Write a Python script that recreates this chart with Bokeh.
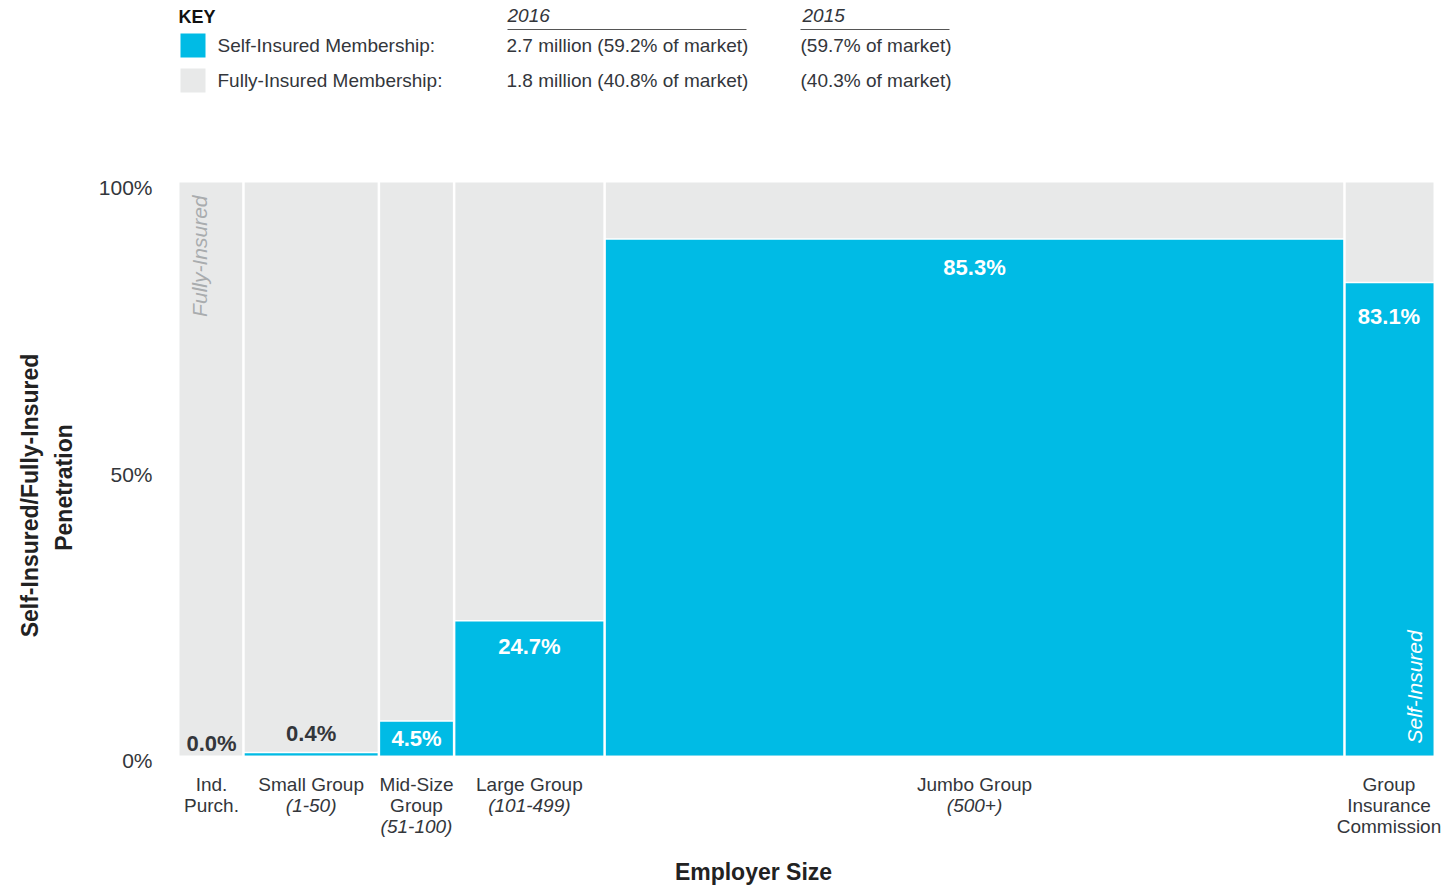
import numpy as np
from bokeh.plotting import figure
from bokeh.models import Range1d
from bokeh.core.properties import value
from bokeh.embed import file_html
from bokeh.resources import INLINE

# ---------------- data ----------------
categories = ["Ind. Purch.", "Small Group", "Mid-Size Group", "Large Group",
              "Jumbo Group", "Group Insurance Commission"]
category_lines = [["Ind.", "Purch."], ["Small Group"], ["Mid-Size", "Group"],
                  ["Large Group"], ["Jumbo Group"], ["Group", "Insurance", "Commission"]]
category_ranges = ["", "(1-50)", "(51-100)", "(101-499)", "(500+)", ""]
membership_share = [5.1, 10.8, 6.0, 12.0, 59.0, 7.1]        # bar widths (% of membership)
self_insured_pct = [0.0, 0.4, 5.9, 23.4, 90.0, 82.4]        # drawn bar heights
value_labels = ["0.0%", "0.4%", "4.5%", "24.7%", "85.3%", "83.1%"]
y_ticks = [0, 50, 100]
y_tick_labels = ["0%", "50%", "100%"]
key_title = "KEY"
key_rows = ["Self-Insured Membership:", "Fully-Insured Membership:"]
key_years = ["2016", "2015"]
key_2016 = ["2.7 million (59.2% of market)", "1.8 million (40.8% of market)"]
key_2015 = ["(59.7% of market)", "(40.3% of market)"]

# ---------------- style / layout ----------------
BLUE = "#00BBE5"
GREY = "#E8E9E9"
DARK = "#33363B"
FONT = value("Liberation Sans")

W, H = 1456, 886
OFF = 0
FL, FR, FT, FB = 179, 1433, 182, 755     # bar area inside the figure (px)
upx = 100.0 / (FR - FL)
upy = 100.0 / (FB - FT)
x0 = -FL * upx
x1 = 100 + (W - FR) * upx
y1 = 100 + FT * upy
y0 = -(H - FB) * upy


def sx(px):  # page pixel -> data x
    return x0 + (px - OFF) * upx


def sy(py):  # page pixel -> data y
    return y1 - (py - OFF) * upy


p = figure(width=W, height=H, x_range=Range1d(x0, x1), y_range=Range1d(y0, y1),
           output_backend="svg", toolbar_location=None, min_border=0,
           border_fill_color="white", background_fill_color="white")
p.axis.visible = False
p.grid.visible = False
p.outline_line_color = None

widths = np.array(membership_share)
rights = np.cumsum(widths)
lefts = rights - widths
centers = (lefts + rights) / 2
heights = np.array(self_insured_pct)

# grey (fully insured) full columns
p.quad(left=lefts, right=rights, bottom=0, top=100, fill_color=GREY, line_color=None)
# white separator on top of self-insured part
mask = heights > 0
p.segment(x0=lefts[mask], x1=rights[mask], y0=heights[mask], y1=heights[mask],
          line_color="white", line_width=3)
# blue (self-insured)
p.quad(left=lefts[mask], right=rights[mask], bottom=0, top=heights[mask],
       fill_color=BLUE, line_color=None)
# vertical white separators between columns
p.segment(x0=rights[:-1], x1=rights[:-1], y0=-1, y1=101, line_color="white", line_width=2.5)

# value labels
label_offset_px = [12, 20, None, -25, -28, -33]
for i, lab in enumerate(value_labels):
    off = label_offset_px[i]
    if off is None:
        y = heights[i] / 2
        col = "white"
    else:
        y = heights[i] + off * upy
        col = DARK if off > 0 else "white"
    p.text(x=[centers[i]], y=[y], text=[lab], text_font=FONT, text_font_size="22px",
           text_font_style="bold", text_color=col, text_align="center",
           text_baseline="middle")

# rotated series labels inside columns
p.text(x=[sx(199)], y=[sy(195)], text=["Fully-Insured"], angle=np.pi / 2,
       text_font=FONT, text_font_size="21px", text_font_style="italic",
       text_color="#A9ACAE", text_align="right", text_baseline="middle")
p.text(x=[sx(1414)], y=[sy(743)], text=["Self-Insured"], angle=np.pi / 2,
       text_font=FONT, text_font_size="21px", text_font_style="italic",
       text_color="white", text_align="left", text_baseline="middle")

# y tick labels
p.text(x=[sx(152)] * len(y_ticks), y=[t - 5 * upy for t in y_ticks], text=y_tick_labels,
       text_font=FONT, text_font_size="21px", text_color=DARK,
       text_align="right", text_baseline="middle")

# category labels
line_h = 21 * upy
first_line_y = sy(784)
for i, lines in enumerate(category_lines):
    for j, ln in enumerate(lines):
        p.text(x=[centers[i]], y=[first_line_y - j * line_h], text=[ln], text_font=FONT,
               text_font_size="19px", text_color=DARK, text_align="center",
               text_baseline="middle")
    if category_ranges[i]:
        j = len(lines)
        p.text(x=[centers[i]], y=[first_line_y - j * line_h], text=[category_ranges[i]],
               text_font=FONT, text_font_size="19px", text_font_style="italic",
               text_color=DARK, text_align="center", text_baseline="middle")

# axis titles
p.text(x=[sx(29)], y=[sy(495)], text=["Self-Insured/Fully-Insured"], angle=np.pi / 2,
       text_font=FONT, text_font_size="23px", text_font_style="bold", text_color="#222222",
       text_align="center", text_baseline="middle")
p.text(x=[sx(63)], y=[sy(487)], text=["Penetration"], angle=np.pi / 2,
       text_font=FONT, text_font_size="23px", text_font_style="bold", text_color="#222222",
       text_align="center", text_baseline="middle")
p.text(x=[sx(753)], y=[sy(871)], text=["Employer Size"], text_font=FONT,
       text_font_size="23px", text_font_style="bold", text_color="#222222",
       text_align="center", text_baseline="middle")

# key
p.text(x=[sx(178)], y=[sy(16)], text=[key_title], text_font=FONT, text_font_size="18px",
       text_font_style="bold", text_color="#111111", text_align="left", text_baseline="middle")
p.quad(left=[sx(180)], right=[sx(205)], top=[sy(33)], bottom=[sy(57)], fill_color=BLUE,
       line_color=None)
p.quad(left=[sx(180)], right=[sx(205)], top=[sy(68)], bottom=[sy(92)], fill_color=GREY,
       line_color=None)
row_y = [sy(45), sy(80)]
p.text(x=[sx(217)] * 2, y=row_y, text=key_rows, text_font=FONT, text_font_size="19px",
       text_color=DARK, text_align="left", text_baseline="middle")
p.text(x=[sx(506)] * 2, y=row_y, text=key_2016, text_font=FONT, text_font_size="19px",
       text_color=DARK, text_align="left", text_baseline="middle")
p.text(x=[sx(800)] * 2, y=row_y, text=key_2015, text_font=FONT, text_font_size="19px",
       text_color=DARK, text_align="left", text_baseline="middle")
p.text(x=[sx(507), sx(802)], y=[sy(15)] * 2, text=key_years, text_font=FONT,
       text_font_size="19px", text_font_style="italic", text_color=DARK,
       text_align="left", text_baseline="middle")
p.segment(x0=[sx(507), sx(800)], x1=[sx(746), sx(949)], y0=[sy(29)] * 2, y1=[sy(29)] * 2,
          line_color="#555555", line_width=1)

open("out.html", "w").write(file_html(p, INLINE))
